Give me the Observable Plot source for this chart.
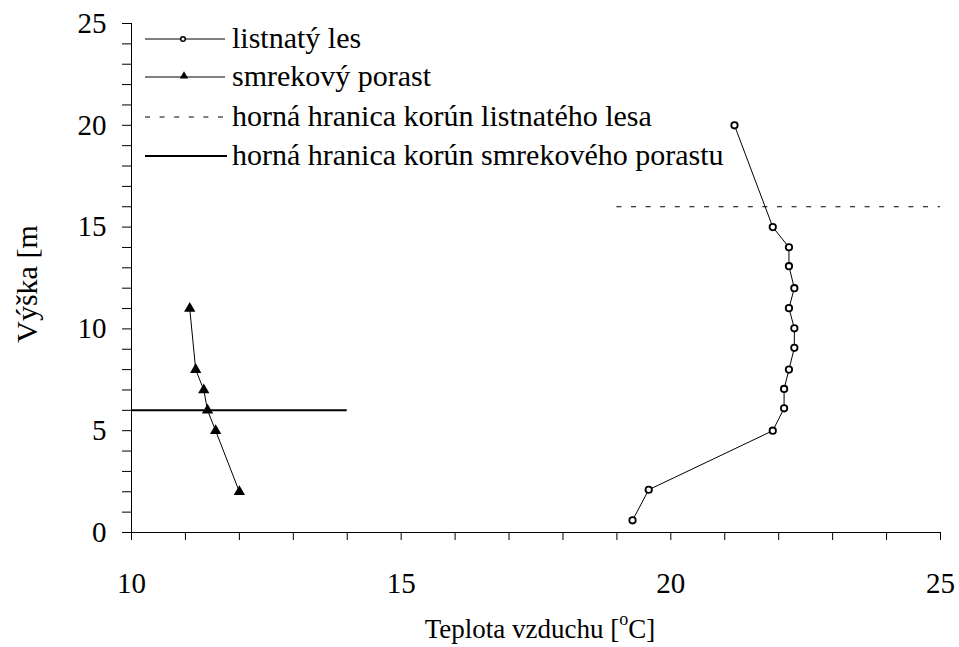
<!DOCTYPE html>
<html>
<head>
<meta charset="utf-8">
<script src="https://cdn.jsdelivr.net/npm/d3@7"></script>
<script src="https://cdn.jsdelivr.net/npm/@observablehq/plot@0.6"></script>
<style>
  html, body { margin: 0; padding: 0; background: #fff; }
  #chart { position: relative; width: 959px; height: 647px; }
  #chart svg, #chart svg text { font-family: "Liberation Serif", "Times New Roman", serif !important; }
</style>
</head>
<body>
<div id="chart"></div>
<script>
// Listnatý les (broadleaf forest): temperature [°C] and height [m]
const leafTemp   = [19.29, 19.59, 21.89, 22.10, 22.10, 22.19, 22.29, 22.29, 22.19, 22.29, 22.19, 22.19, 21.89, 21.18];
const leafHeight = [0.6,   2.1,   5.0,   6.1,   7.05,  8.0,   9.07,  10.03, 11.02, 12.0,  13.08, 14.01, 15.0,  20.0];

// Smrekový porast (spruce stand)
const spruceTemp   = [12.0, 11.56, 11.41, 11.34, 11.19, 11.08];
const spruceHeight = [2.0,  5.0,   6.0,   7.0,   8.0,   11.0];

// Crown top boundaries: [height, xFrom, xTo]
const leafCrown   = [16, 19, 25];
const spruceCrown = [6, 10, 14];

// Axis ticks
const xTicks = d3.range(10, 26, 1);
const yTicks = d3.range(0, 26, 1);
const xLabelTicks = [10, 15, 20, 25];
const yLabelTicks = [0, 5, 10, 15, 20, 25];

const legendLabels = [
  "listnatý les",
  "smrekový porast",
  "horná hranica korún listnatého lesa",
  "horná hranica korún smrekového porastu"
];
const xTitle = ["Teplota vzduchu [", "o", "C]"];
const yTitle = "Výška [m";

const leaf = leafTemp.map((t, i) => ({t, h: leafHeight[i]}));
const spruce = spruceTemp.map((t, i) => ({t, h: spruceHeight[i]}));

const FONT = "Liberation Serif";

const plot = Plot.plot({
  width: 959,
  height: 647,
  marginLeft: 131,
  marginRight: 19,
  marginTop: 23,
  marginBottom: 115,
  style: {fontSize: "29px", color: "#000", background: "#fff", overflow: "visible"},
  x: {domain: [10, 25]},
  y: {domain: [0, 25]},
  marks: [
    Plot.axisX({ticks: xTicks, tickSize: 8, tickPadding: 32, label: null, fontFamily: FONT, fontSize: 29,
      tickFormat: d => xLabelTicks.includes(d) ? String(d) : ""}),
    Plot.axisY({ticks: yTicks, tickSize: 9, tickPadding: 16, label: null, fontFamily: FONT, fontSize: 29,
      tickFormat: d => yLabelTicks.includes(d) ? String(d) : ""}),
    Plot.ruleY([0], {stroke: "#000", strokeWidth: 1}),
    Plot.ruleX([10], {stroke: "#000", strokeWidth: 1}),
    Plot.ruleY([leafCrown[0]], {x1: leafCrown[1], x2: leafCrown[2], stroke: "#000", strokeWidth: 1, strokeDasharray: "5,9.6"}),
    Plot.ruleY([spruceCrown[0]], {x1: spruceCrown[1], x2: spruceCrown[2], stroke: "#000", strokeWidth: 2}),
    Plot.line(leaf, {x: "t", y: "h", stroke: "#000", strokeWidth: 1}),
    Plot.dot(leaf, {x: "t", y: "h", r: 3.2, stroke: "#000", strokeWidth: 1.8, fill: "#fff"}),
    Plot.line(spruce, {x: "t", y: "h", stroke: "#000", strokeWidth: 1}),
    Plot.dot(spruce, {x: "t", y: "h", symbol: "triangle", r: 4.2, fill: "#000", stroke: "none"})
  ]
});

document.getElementById("chart").appendChild(plot);

// Titles and legend drawn into the same SVG
const svg = d3.select(plot);

const xt = svg.append("text")
  .attr("x", 540).attr("y", 638)
  .style("text-anchor", "middle")
  .style("font-family", FONT).style("font-size", "27px").style("fill", "#000");
xt.append("tspan").text(xTitle[0]);
xt.append("tspan").style("font-size", "18px").attr("dy", -13).text(xTitle[1]);
xt.append("tspan").attr("dy", 13).text(xTitle[2]);

svg.append("text")
  .attr("transform", "translate(37,284) rotate(-90)")
  .style("text-anchor", "middle")
  .style("font-family", FONT).style("font-size", "30px").style("fill", "#000")
  .text(yTitle);

const lg = svg.append("g");
const rowsY = [39, 77, 117, 156];
const lineX0 = 145, lineX1 = 225, textX = 232;

// row 1: line + open circle
lg.append("line").attr("x1", lineX0).attr("x2", lineX1).attr("y1", rowsY[0]).attr("y2", rowsY[0]).attr("stroke", "#000");
lg.append("circle").attr("cx", 183).attr("cy", rowsY[0]).attr("r", 2.3).attr("fill", "#fff").attr("stroke", "#000").attr("stroke-width", 1.5);
// row 2: line + triangle
lg.append("line").attr("x1", lineX0).attr("x2", lineX1).attr("y1", rowsY[1]).attr("y2", rowsY[1]).attr("stroke", "#000");
lg.append("path").attr("d", d3.symbol(d3.symbolTriangle, 30)()).attr("transform", `translate(184,${rowsY[1] - 1})`).attr("fill", "#000");
// row 3: dashed
lg.append("line").attr("x1", lineX0).attr("x2", lineX1).attr("y1", rowsY[2]).attr("y2", rowsY[2]).attr("stroke", "#000").attr("stroke-dasharray", "5,9.6");
// row 4: thick solid
lg.append("line").attr("x1", lineX0).attr("x2", lineX1 + 2).attr("y1", rowsY[3]).attr("y2", rowsY[3]).attr("stroke", "#000").attr("stroke-width", 2);

legendLabels.forEach((t, i) => {
  lg.append("text").attr("x", textX).attr("y", rowsY[i] + 9)
    .style("text-anchor", "start").style("font-family", FONT).style("font-size", "30px").style("fill", "#000")
    .text(t);
});
</script>
</body>
</html>
